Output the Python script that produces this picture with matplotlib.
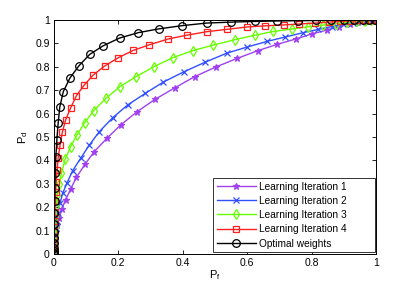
import matplotlib
matplotlib.use("Agg")
import matplotlib.pyplot as plt

plt.rcParams['font.family'] = ['Liberation Sans', 'DejaVu Sans']
plt.rcParams['mathtext.default'] = 'regular'

labels = ["Learning Iteration 1", "Learning Iteration 2", "Learning Iteration 3",
          "Learning Iteration 4", "Optimal weights"]

pf1 = [0, 0, 0.001, 0.002, 0.004, 0.006, 0.010, 0.016, 0.024, 0.036, 0.052, 0.070, 0.096,
       0.125, 0.164, 0.207, 0.257, 0.314, 0.375, 0.437, 0.504, 0.569, 0.633, 0.693, 0.751,
       0.800, 0.847, 0.886, 0.919, 0.945, 0.965, 0.980, 0.992, 1.0]
pd1 = [0, 0.01, 0.025, 0.045, 0.07, 0.095, 0.122, 0.152, 0.191, 0.231, 0.278, 0.328, 0.383,
       0.437, 0.494, 0.551, 0.607, 0.661, 0.710, 0.758, 0.800, 0.836, 0.869, 0.896, 0.919,
       0.940, 0.957, 0.972, 0.983, 0.990, 0.995, 0.998, 0.999, 1.0]

pf2 = [0, 0, 0.0005, 0.001, 0.002, 0.003, 0.005, 0.008, 0.012, 0.019, 0.027, 0.041, 0.058,
       0.083, 0.110, 0.141, 0.182, 0.229, 0.284, 0.340, 0.404, 0.470, 0.536, 0.601, 0.663,
       0.717, 0.774, 0.821, 0.862, 0.898, 0.930, 0.955, 0.975, 0.990, 1.0]
pd2 = [0, 0.01, 0.02, 0.035, 0.055, 0.08, 0.11, 0.14, 0.175, 0.217, 0.259, 0.305, 0.356,
       0.409, 0.466, 0.523, 0.582, 0.637, 0.687, 0.735, 0.779, 0.820, 0.858, 0.885, 0.909,
       0.927, 0.946, 0.960, 0.972, 0.982, 0.988, 0.993, 0.996, 0.999, 1.0]

pf3 = [0, 0, 0.0005, 0.001, 0.002, 0.003, 0.004, 0.006, 0.010, 0.017, 0.023, 0.035, 0.052,
       0.071, 0.095, 0.123, 0.161, 0.205, 0.255, 0.311, 0.369, 0.431, 0.495, 0.562, 0.624,
       0.681, 0.740, 0.790, 0.836, 0.876, 0.910, 0.940, 0.965, 0.985, 1.0]
pd3 = [0, 0.01, 0.025, 0.05, 0.08, 0.115, 0.16, 0.205, 0.252, 0.298, 0.345, 0.405, 0.459,
       0.508, 0.560, 0.612, 0.665, 0.715, 0.758, 0.801, 0.839, 0.869, 0.893, 0.916, 0.935,
       0.951, 0.962, 0.971, 0.978, 0.985, 0.990, 0.994, 0.997, 0.999, 1.0]

pf4 = [0, 0, 0, 0.0005, 0.001, 0.001, 0.002, 0.003, 0.004, 0.005, 0.007, 0.010, 0.013,
       0.019, 0.026, 0.036, 0.052, 0.070, 0.094, 0.122, 0.157, 0.200, 0.246, 0.296, 0.355,
       0.412, 0.474, 0.536, 0.598, 0.655, 0.714, 0.762, 0.810, 0.854, 0.888, 0.920, 0.945,
       0.965, 0.985, 1.0]
pd4 = [0, 0.01, 0.025, 0.045, 0.07, 0.10, 0.14, 0.18, 0.225, 0.266, 0.309, 0.359, 0.409,
       0.466, 0.520, 0.572, 0.625, 0.677, 0.722, 0.765, 0.803, 0.839, 0.870, 0.894, 0.919,
       0.935, 0.950, 0.960, 0.970, 0.975, 0.979, 0.983, 0.987, 0.991, 0.994, 0.996, 0.998,
       0.999, 1.0, 1.0]

pf5 = [0, 0, 0, 0, 0, 0, 0, 0.0005, 0.001, 0.002, 0.003, 0.004, 0.006, 0.009, 0.013, 0.018,
       0.029, 0.050, 0.078, 0.111, 0.153, 0.204, 0.262, 0.325, 0.398, 0.474, 0.550, 0.624,
       0.693, 0.758, 0.814, 0.860, 0.901, 0.933, 0.959, 0.978, 0.997]
pd5 = [0, 0.005, 0.012, 0.025, 0.045, 0.07, 0.095, 0.128, 0.174, 0.228, 0.283, 0.347, 0.416,
       0.487, 0.558, 0.627, 0.694, 0.753, 0.805, 0.853, 0.890, 0.923, 0.946, 0.962, 0.976,
       0.987, 0.991, 0.994, 0.996, 0.997, 0.998, 0.999, 0.999, 1.0, 1.0, 1.0, 1.0]

series = [(pf1, pd1), (pf2, pd2), (pf3, pd3), (pf4, pd4), (pf5, pd5)]
colors = ["#a040f0", "#3050ff", "#66ff00", "#ff2020", "#000000"]
markers = ["*", "x", "d", "s", "o"]
msizes = [5, 4.5, 5, 5, 5.5]

xticks = [0, 0.2, 0.4, 0.6, 0.8, 1]
xticklabels = ["0", "0.2", "0.4", "0.6", "0.8", "1"]
yticks = [0, 0.1, 0.2, 0.3, 0.4, 0.5, 0.6, 0.7, 0.8, 0.9, 1]
yticklabels = ["0", "0.1", "0.2", "0.3", "0.4", "0.5", "0.6", "0.7", "0.8", "0.9", "1"]

fig = plt.figure(figsize=(4.15, 2.86), dpi=100)
ax = fig.add_axes([0.130, 0.112, 0.776, 0.818])

for (x, y), c, m, ms, lab in zip(series, colors, markers, msizes, labels):
    mfc = c if m == "*" else "none"
    ax.plot(x, y, color=c, marker=m, markersize=ms, markerfacecolor=mfc,
            markeredgecolor=c, linewidth=1.0, markeredgewidth=0.9, label=lab)

ax.set_xlim(0, 1)
ax.set_ylim(0, 1)
ax.set_xticks(xticks)
ax.set_xticklabels(xticklabels)
ax.set_yticks(yticks)
ax.set_yticklabels(yticklabels)
ax.tick_params(direction='in', length=3, width=0.6, labelsize=7.5, top=True, right=True,
               pad=3)
for s in ax.spines.values():
    s.set_linewidth(0.7)

ax.set_xlabel("P$_f$", fontsize=8, labelpad=0)
ax.set_ylabel("P$_d$", fontsize=8, labelpad=4)

leg = ax.legend(loc='lower left', bbox_to_anchor=(0.494, 0.008, 0.503, 0.3), mode='expand',
                fontsize=7.3, handlelength=3.9, fancybox=False,
                framealpha=1, edgecolor='#333333', borderpad=0.35, labelspacing=0.42,
                handletextpad=0.3, borderaxespad=0.0)
leg.get_frame().set_linewidth(0.7)

fig.savefig("out.png", dpi=100)
